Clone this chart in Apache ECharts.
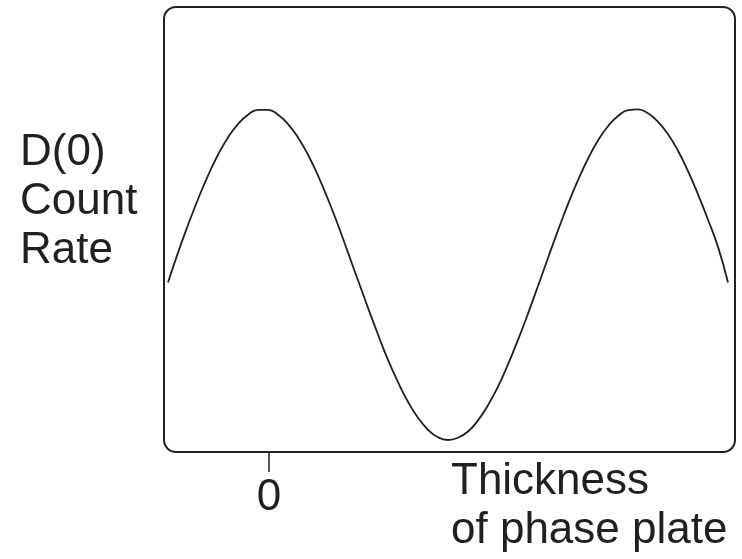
<!DOCTYPE html>
<html>
<head>
<meta charset="utf-8">
<script src="https://cdn.jsdelivr.net/npm/echarts@6/dist/echarts.min.js"></script>
<style>
  html, body { margin: 0; padding: 0; background: #fff; }
  #main { width: 742px; height: 559px; }
</style>
</head>
<body>
<div id="main"></div>
<script>
// thickness of the phase plate (arbitrary units, 0 = marked tick)
var thickness = [-101, -91, -81, -71, -61, -51, -41, -31, -21, -11, -1,
    9, 19, 29, 39, 49, 59, 69, 79, 89, 99,
    109, 119, 129, 139, 149, 159, 169, 179, 189, 199,
    209, 219, 229, 239, 249, 259, 269, 279, 289, 299,
    309, 319, 329, 339, 349, 359, 369, 379, 389, 399,
    409, 419, 429, 439, 449, 459];
// D(0) count rate (arbitrary units)
var countRate = [38.1, 44.8, 51.0, 56.8, 62.1, 66.8, 70.7, 73.7, 75.8, 76.9, 76.9,
    75.8, 73.7, 70.7, 66.8, 62.1, 56.8, 51.0, 44.8, 38.6, 32.4,
    26.4, 20.7, 15.7, 11.3, 7.7, 5.0, 3.3, 2.7, 3.2, 4.6,
    7.1, 10.5, 14.7, 19.7, 25.2, 31.1, 37.3, 43.6, 49.8, 55.7,
    61.1, 65.9, 70.0, 73.2, 75.5, 76.8, 77.0, 76.1, 74.2, 71.4,
    67.7, 63.1, 57.9, 52.2, 46.1, 38.1];
var xTicks = [0];

var yName = 'D(0)\nCount\nRate';
var xName = 'Thickness\nof phase plate';

var gridPos = { left: 164, top: 7, right: 7, bottom: 107 };
var W = 742, H = 559;
var ink = '#231f20';
var font = '"Liberation Sans", Arial, Helvetica, sans-serif';

var points = [];
for (var i = 0; i < thickness.length; i++) {
    points.push([thickness[i], countRate[i]]);
}

var chart = echarts.init(document.getElementById('main'), null, { renderer: 'canvas' });

var option = {
    animation: false,
    backgroundColor: '#fff',
    title: [
        {
            text: yName,
            left: 20,
            top: 128,
            padding: 0,
            textStyle: { fontFamily: font, fontSize: 44, fontWeight: 'normal', color: ink, lineHeight: 49 }
        },
        {
            text: xName,
            left: 451,
            top: 457,
            padding: 0,
            textStyle: { fontFamily: font, fontSize: 44, fontWeight: 'normal', color: ink, lineHeight: 49 }
        }
    ],
    grid: {
        left: gridPos.left,
        top: gridPos.top,
        right: gridPos.right,
        bottom: gridPos.bottom
    },
    xAxis: {
        type: 'value',
        min: -105,
        max: 466,
        axisLine: { show: false },
        splitLine: { show: false },
        axisTick: {
            show: true,
            customValues: xTicks,
            length: 20,
            lineStyle: { color: ink, width: 1.5 }
        },
        axisLabel: {
            show: true,
            customValues: xTicks,
            margin: 24,
            fontFamily: font,
            fontSize: 44,
            color: ink
        }
    },
    yAxis: {
        type: 'value',
        min: 0,
        max: 100,
        show: false
    },
    graphic: [
        {
            type: 'rect',
            shape: {
                x: gridPos.left,
                y: gridPos.top,
                width: W - gridPos.left - gridPos.right,
                height: H - gridPos.top - gridPos.bottom,
                r: 12
            },
            style: { fill: 'none', stroke: ink, lineWidth: 2 },
            z: 10
        }
    ],
    series: [
        {
            type: 'line',
            data: points,
            smooth: true,
            showSymbol: false,
            lineStyle: { color: ink, width: 1.8 }
        }
    ]
};

chart.setOption(option);
</script>
</body>
</html>
